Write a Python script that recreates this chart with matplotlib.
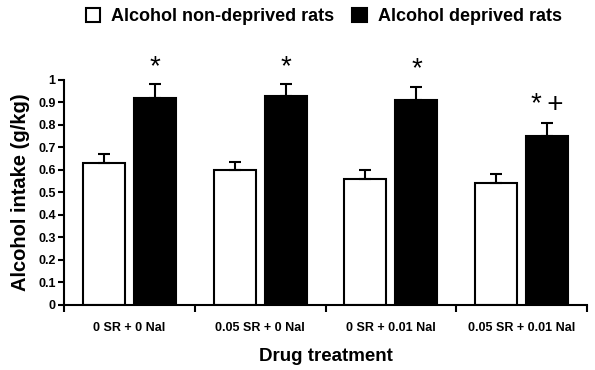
import numpy as np
import matplotlib.pyplot as plt
from matplotlib.patches import Patch

plt.rcParams['font.family'] = ['Liberation Sans', 'DejaVu Sans']

# Daten
treatments = ['0 SR + 0 Nal', '0.05 SR + 0 Nal', '0 SR + 0.01 Nal', '0.05 SR + 0.01 Nal']
non_deprived = [0.63, 0.60, 0.56, 0.54]
non_deprived_err = [0.04, 0.035, 0.04, 0.04]
deprived = [0.92, 0.93, 0.91, 0.75]
deprived_err = [0.06, 0.05, 0.06, 0.06]
marks = ['*', '*', '*', '*\u2009+']

fig = plt.figure(figsize=(5.95, 3.7), dpi=100)
ax = fig.add_axes([0.1076, 0.1757, 0.879, 0.6081])

x = np.arange(len(treatments))
w = 0.32
off = 0.195

ax.bar(x - off, non_deprived, w, color='white', edgecolor='black', linewidth=1.5, zorder=2)
ax.bar(x + off, deprived, w, color='black', edgecolor='black', linewidth=1.5, zorder=2)
ax.errorbar(x - off, non_deprived, yerr=[np.zeros(4), non_deprived_err], fmt='none',
            ecolor='black', elinewidth=1.5, capsize=4, capthick=1.5, zorder=3)
ax.errorbar(x + off, deprived, yerr=[np.zeros(4), deprived_err], fmt='none',
            ecolor='black', elinewidth=1.5, capsize=4, capthick=1.5, zorder=3)

# Signifikanz-Zeichen
for xi, top, m in zip(x + off, np.array(deprived) + np.array(deprived_err), marks):
    ax.annotate(m, (xi, top), xytext=(0, 7.5), textcoords='offset points',
                ha='center', va='baseline', fontsize=20, clip_on=False)

ax.set_xlim(-0.5, 3.5)
ax.set_ylim(0, 1)
ax.set_yticks(np.arange(0, 1.01, 0.1))
ax.set_yticklabels(['0', '0.1', '0.2', '0.3', '0.4', '0.5', '0.6', '0.7', '0.8', '0.9', '1'],
                   fontsize=9, fontweight='bold')
ax.set_xticks(x)
ax.set_xticklabels(treatments, fontsize=9, fontweight='bold')
ax.set_xticks(np.arange(-0.5, 3.6, 1), minor=True)
ax.tick_params(axis='x', which='major', length=0, pad=12)
ax.tick_params(axis='x', which='minor', length=5, width=1.5)
ax.tick_params(axis='y', length=4, width=1.5, pad=2)

for s in ['top', 'right']:
    ax.spines[s].set_visible(False)
for s in ['left', 'bottom']:
    ax.spines[s].set_linewidth(1.5)

ax.set_xlabel('Drug treatment', fontsize=13.5, fontweight='bold', labelpad=10)
ax.set_ylabel('Alcohol intake (g/kg)', fontsize=14.5, fontweight='bold', labelpad=6)

handles = [Patch(facecolor='white', edgecolor='black', linewidth=1.5),
           Patch(facecolor='black', edgecolor='black', linewidth=1.5)]
fig.legend(handles, ['Alcohol non-deprived rats', 'Alcohol deprived rats'],
           loc='center', bbox_to_anchor=(0.544, 0.955), ncol=2, frameon=False,
           handlelength=0.8, handleheight=0.8, handletextpad=0.6, columnspacing=1.0,
           prop={'size': 13, 'weight': 'bold'})

fig.savefig('out.png', dpi=100)
